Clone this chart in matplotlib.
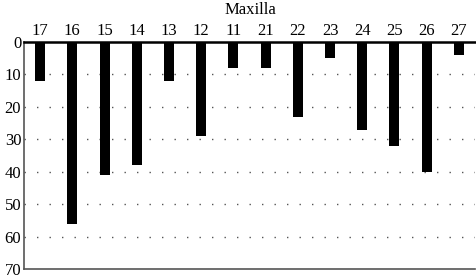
import matplotlib
matplotlib.use("Agg")
import matplotlib.pyplot as plt
import numpy as np

teeth = ["17", "16", "15", "14", "13", "12", "11", "21", "22", "23", "24", "25", "26", "27"]
values = [12, 56, 41, 38, 12, 29, 8, 8, 23, 5, 27, 32, 40, 4]
yticks = [0, 10, 20, 30, 40, 50, 60, 70]

plt.rcParams["font.family"] = ["Liberation Serif", "DejaVu Serif"]

fig = plt.figure(figsize=(4.76, 2.75), dpi=100)
ax = fig.add_axes([24 / 476, 6 / 275, 451 / 476, 227 / 275])

x = np.arange(len(teeth))
ax.bar(x, values, width=0.31, color="black", zorder=3)

ax.set_xlim(-0.5, len(teeth) - 0.5)
ax.set_ylim(70, 0)
ax.set_yticks(yticks)
ax.set_xticks(x)
ax.set_xticklabels(teeth)
ax.xaxis.tick_top()
ax.tick_params(axis="both", length=0, labelsize=12, pad=2)
ax.tick_params(axis="y", pad=2)

for v in yticks[1:-1]:
    ax.axhline(v, color="#555555", lw=1.0, ls=(0, (1, 8)), zorder=1)

ax.spines["right"].set_visible(False)
ax.spines["top"].set_color("black")
ax.spines["top"].set_linewidth(1.8)
ax.spines["left"].set_color("#555555")
ax.spines["bottom"].set_color("#555555")
ax.spines["left"].set_linewidth(1.2)
ax.spines["bottom"].set_linewidth(1.2)

fig.text(0.5 + 12 / 476, 1 - 10 / 275, "Maxilla", ha="center", va="center", fontsize=12)

fig.savefig("out.png", dpi=100)
